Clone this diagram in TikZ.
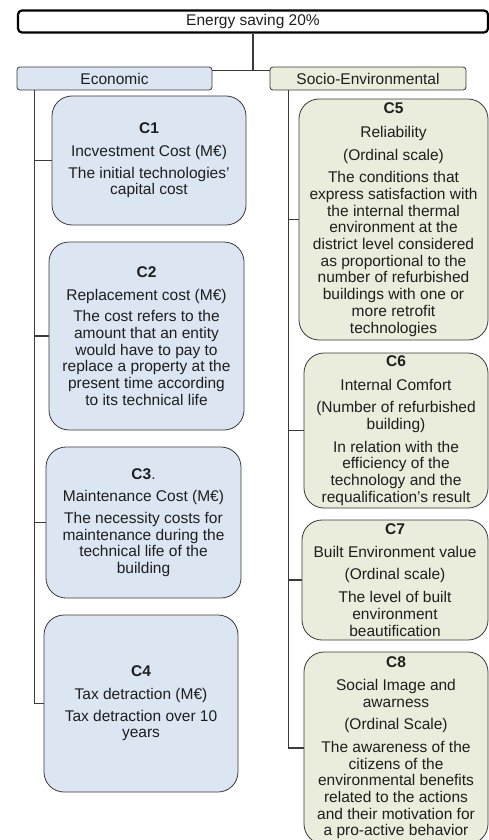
\documentclass[tikz,border=0pt]{standalone}
\usepackage{fontspec}
\setmainfont{Liberation Sans}
\usetikzlibrary{calc,backgrounds}

\definecolor{ecoblue}{HTML}{DCE6F2}
\definecolor{socgreen}{HTML}{EAEDDC}
\definecolor{boxline}{HTML}{3A3A3A}
\definecolor{inktext}{HTML}{1E1E1E}
\newcommand{\critfont}{\fontsize{15.5}{16.7}\selectfont}

\begin{document}
\begin{tikzpicture}[x=1pt,y=-1pt,text=inktext,font=\critfont,
  goal node/.style={draw=black,line width=2.2pt,rounded corners=4pt,minimum width=470pt,minimum height=22pt,inner sep=0pt},
  group node/.style={draw=boxline,line width=0.8pt,rounded corners=3pt,minimum height=23pt,inner sep=0pt},
  crit node/.style={draw=boxline,line width=0.8pt,rounded corners=20pt,align=center,inner sep=1pt}]
\tikzstyle{link} = [draw=boxline,line width=1.1pt]

\useasboundingbox (0,0) rectangle (489,840);

% Goal and groups
\node[goal node] (goal) at (253,21.5) {Energy saving 20\%};
\node[group node,fill=ecoblue,minimum width=195pt] (eco) at (114.5,78.5) {Economic};
\node[group node,fill=socgreen,minimum width=196pt] (soc) at (368,78.5) {Socio-Environmental};

% Economic criteria
\node[crit node,fill=ecoblue,minimum width=194pt,minimum height=129pt] (c1) at (149,160.5)
  {\textbf{C1}\\[6pt] Incvestment Cost (M€)\\[5pt] The initial technologies’\\ capital cost};
\node[crit node,fill=ecoblue,minimum width=195pt,minimum height=188pt] (c2) at (146.5,336)
  {\textbf{C2}\\[6pt] Replacement cost (M€)\\[5pt] The cost refers to the\\ amount that an entity\\ would have to pay to\\ replace a property at the\\ present time according\\ to its technical life};
\node[crit node,fill=ecoblue,minimum width=195pt,minimum height=151pt] (c3) at (143.5,522.5)
  {\textbf{C3}.\\[6pt] Maintenance Cost (M€)\\[5pt] The necessity costs for\\ maintenance during the\\ technical life of the\\ building};
\node[crit node,fill=ecoblue,minimum width=194pt,minimum height=177pt] (c4) at (141,703.5)
  {\textbf{C4}\\[6pt] Tax detraction (M€)\\[5pt] Tax detraction over 10\\ years};

% Socio-Environmental criteria
\node[crit node,fill=socgreen,minimum width=189pt,minimum height=241pt] (c5) at (393.5,219.5)
  {\textbf{C5}\\[7pt] Reliability\\[6pt] (Ordinal scale)\\[6pt] The conditions that\\ express satisfaction with\\ the internal thermal\\ environment at the\\ district level considered\\ as proportional to the\\ number of refurbished\\ buildings with one or\\ more retrofit\\ technologies};
\node[crit node,fill=socgreen,minimum width=184pt,minimum height=155pt] (c6) at (396,430.5)
  {\textbf{C6}\\[7pt] Internal Comfort\\[6pt] (Number of refurbished\\ building)\\[6pt] In relation with the\\ efficiency of the\\ technology and the\\ requalification’s result};
\node[crit node,fill=socgreen,minimum width=186pt,minimum height=120pt] (c7) at (395,580)
  {\textbf{C7}\\[6pt] Built Environment value\\[6pt] (Ordinal scale)\\[6pt] The level of built\\ environment\\ beautification};
\node[crit node,fill=socgreen,minimum width=184pt,minimum height=192pt] (c8) at (396,748)
  {\textbf{C8}\\[6pt] Social Image and\\ awarness\\[6pt] (Ordinal Scale)\\[6pt] The awareness of the\\ citizens of the\\ environmental benefits\\ related to the actions\\ and their motivation for\\ a pro-active behavior};

% Connectors
\begin{scope}[on background layer]
\coordinate (split) at ($(goal.south)+(0,37)$);
\draw[link] (goal.south) -- (split);
\draw[link] (eco.north) |- (split) -| (soc.north);

\coordinate (ecotrunk) at ($(eco.south west)+(18,0)$);
\draw[link] (ecotrunk) |- (c1.west);
\draw[link] (ecotrunk) |- (c2.west);
\draw[link] (ecotrunk) |- (c3.west);
\draw[link] (ecotrunk) |- (c4.west);

\coordinate (soctrunk) at ($(soc.south west)+(19,0)$);
\draw[link] (soctrunk) |- (c5.west);
\draw[link] (soctrunk) |- (c6.west);
\draw[link] (soctrunk) |- (c7.west);
\draw[link] (soctrunk) |- (c8.west);
\end{scope}

\end{tikzpicture}
\end{document}
